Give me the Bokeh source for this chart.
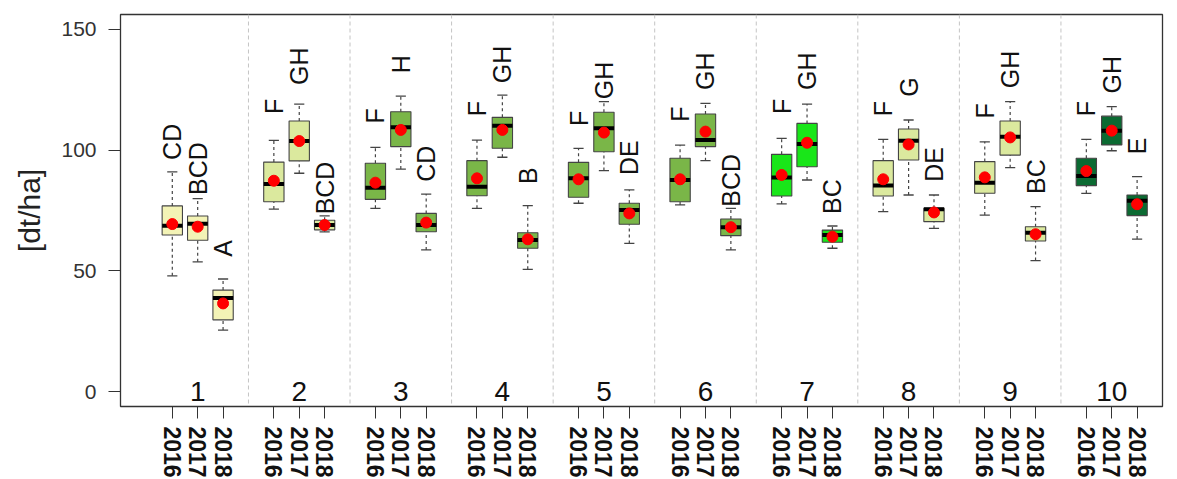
import math
from bokeh.plotting import figure
from bokeh.models import ColumnDataSource, FixedTicker, Span, Range1d, LinearAxis
from bokeh.core.properties import value
from bokeh.embed import file_html
from bokeh.resources import INLINE

groups = ["1", "2", "3", "4", "5", "6", "7", "8", "9", "10"]
years = ["2016", "2017", "2018"]

# per box, ordered group by group, 2016/2017/2018
whisker_low = [48.0, 53.8, 25.6, 75.6, 90.4, 66.2, 75.9, 92.1, 58.7, 75.9, 97.0, 50.7,
               78.0, 91.5, 61.4, 77.3, 95.6, 58.7, 77.7, 87.6, 59.4, 74.5, 81.4, 67.6,
               73.1, 92.7, 54.3, 82.1, 99.7, 63.2]
q1 = [64.9, 62.7, 29.8, 78.6, 95.5, 67.0, 79.6, 101.4, 66.2, 81.1, 100.7, 59.4,
      80.5, 99.3, 69.3, 78.6, 101.4, 64.6, 81.0, 93.1, 61.9, 81.0, 95.9, 70.4,
      82.1, 97.9, 62.4, 85.3, 102.1, 72.9]
median = [68.7, 69.5, 38.8, 86.0, 103.7, 69.0, 84.4, 109.4, 69.0, 84.8, 110.0, 62.8,
          88.3, 109.0, 75.2, 87.6, 104.1, 68.1, 88.6, 102.5, 64.9, 85.3, 103.8, 75.5,
          86.5, 105.5, 65.8, 89.3, 108.0, 79.0]
q3 = [76.9, 72.7, 42.1, 95.0, 112.0, 71.0, 94.5, 115.8, 73.8, 95.6, 113.5, 65.8,
      94.9, 115.6, 78.0, 96.6, 114.9, 71.5, 98.2, 111.0, 66.9, 95.6, 108.7, 75.9,
      95.2, 112.0, 68.3, 96.6, 114.0, 81.4]
whisker_high = [91.0, 79.9, 46.7, 104.0, 119.0, 72.8, 101.1, 122.3, 81.8, 104.1, 122.7, 77.0,
                100.7, 120.0, 83.5, 102.0, 119.3, 75.9, 104.8, 119.0, 68.6, 104.4, 112.4, 81.4,
                103.4, 120.0, 76.6, 104.4, 117.9, 89.0]
means = [69.4, 68.3, 36.6, 87.3, 103.7, 69.0, 86.5, 108.3, 70.0, 88.3, 108.3, 63.1,
         87.9, 107.2, 73.8, 87.9, 107.6, 68.1, 89.7, 103.0, 64.2, 87.9, 102.3, 74.2,
         88.7, 105.2, 65.2, 91.3, 108.0, 77.6]
letters = ["CD", "BCD", "A", "F", "GH", "BCD", "F", "H", "CD", "F", "GH", "B",
           "F", "GH", "DE", "F", "GH", "BCD", "F", "GH", "BC", "F", "G", "DE",
           "F", "GH", "BC", "F", "GH", "E"]
letter_y = [95.9, 81.4, 55.9, 114.9, 126.9, 73.4, 111.0, 131.7, 86.9, 114.0, 127.6, 86.0,
            109.9, 121.0, 89.7, 111.7, 124.8, 76.6, 114.9, 124.8, 73.6, 114.0, 122.0, 86.9,
            113.0, 125.5, 81.8, 114.0, 123.4, 98.2]

# styling
group_colors = ["#f3f3b6", "#dbe99e", "#7ab648", "#7ab648", "#7ab648", "#7ab648",
                "#19e619", "#dbe99e", "#dbe99e", "#0b6a32"]
FONT = "Liberation Sans"

n_years = len(years)
xs, fills, year_lab = [], [], {}
for g in range(len(groups)):
    for k in range(n_years):
        pos = g * (n_years + 1) + k + 1
        xs.append(pos)
        fills.append(group_colors[g])
        year_lab[pos] = years[k]

hw = 0.4
src = ColumnDataSource(dict(
    x=xs, left=[x - hw for x in xs], right=[x + hw for x in xs],
    capl=[x - hw / 2 for x in xs], capr=[x + hw / 2 for x in xs],
    wl=whisker_low, q1=q1, med=median, q3=q3, wh=whisker_high, mean=means,
    fill=fills, lab=letters, ly=letter_y,
))

n_slots = len(groups) * (n_years + 1)
p = figure(frame_width=1042, frame_height=392,
           min_border_left=120, min_border_right=15, min_border_top=14, min_border_bottom=73,
           x_range=Range1d(-1.04, n_slots), y_range=Range1d(-6, 156),
           output_backend="svg", toolbar_location=None,
           x_axis_type=None, y_axis_type=None)
p.grid.visible = False
p.outline_line_color = "#333333"
p.outline_line_width = 1.3
p.background_fill_color = "white"
p.border_fill_color = "white"

yax = LinearAxis(ticker=FixedTicker(ticks=[0, 50, 100, 150]))
yax.axis_label = "[dt/ha]"
yax.axis_label_text_font = FONT
yax.axis_label_text_font_size = "30px"
yax.axis_label_text_font_style = "normal"
yax.axis_label_text_color = "#222222"
yax.axis_label_standoff = 12
yax.major_label_text_font = FONT
yax.major_label_text_font_size = "21px"
yax.major_label_text_color = "#333333"
yax.major_label_standoff = 12
yax.major_tick_out = 12
yax.major_tick_in = 0
yax.minor_tick_out = 0
yax.minor_tick_in = 0
yax.axis_line_color = None
yax.major_tick_line_color = "#333333"
p.add_layout(yax, "left")

xax = LinearAxis(ticker=FixedTicker(ticks=xs))
xax.major_label_overrides = year_lab
xax.major_label_orientation = "vertical"
xax.major_label_text_font = FONT
xax.major_label_text_font_size = "23px"
xax.major_label_text_font_style = "bold"
xax.major_label_text_color = "#111111"
xax.major_label_standoff = 8
xax.major_tick_out = 12
xax.major_tick_in = 0
xax.minor_tick_out = 0
xax.minor_tick_in = 0
xax.axis_line_color = None
xax.major_tick_line_color = "#333333"
p.add_layout(xax, "below")

for g in range(1, len(groups)):
    p.add_layout(Span(location=g * (n_years + 1), dimension="height",
                      line_color="#c4c4c4", line_dash="4 3", line_width=1))

# whiskers
p.segment(x0="x", y0="q3", x1="x", y1="wh", source=src, line_color="#444444",
          line_dash="3 3", line_width=1.2)
p.segment(x0="x", y0="wl", x1="x", y1="q1", source=src, line_color="#444444",
          line_dash="3 3", line_width=1.2)
p.segment(x0="capl", y0="wh", x1="capr", y1="wh", source=src, line_color="#444444", line_width=1.3)
p.segment(x0="capl", y0="wl", x1="capr", y1="wl", source=src, line_color="#444444", line_width=1.3)
# boxes
p.quad(left="left", right="right", bottom="q1", top="q3", source=src,
       fill_color="fill", line_color="#444444", line_width=1.1)
p.segment(x0="left", y0="med", x1="right", y1="med", source=src, line_color="black", line_width=4)
p.scatter(x="x", y="mean", source=src, size=11, fill_color="#ff0000", line_color="#ff0000")

# significance letters
p.text(x="x", y="ly", text="lab", source=src, angle=math.pi / 2,
       text_align="left", text_baseline="middle",
       text_font=value(FONT), text_font_size="25px", text_color="#111111")

# group numbers
mid = [xs[g * n_years + 1] for g in range(len(groups))]
p.text(x=mid, y=[0.0] * len(groups), text=groups, text_align="center",
       text_baseline="middle", text_font=value(FONT), text_font_size="28px",
       text_color="#111111")

open("out.html", "w").write(file_html(p, INLINE))
